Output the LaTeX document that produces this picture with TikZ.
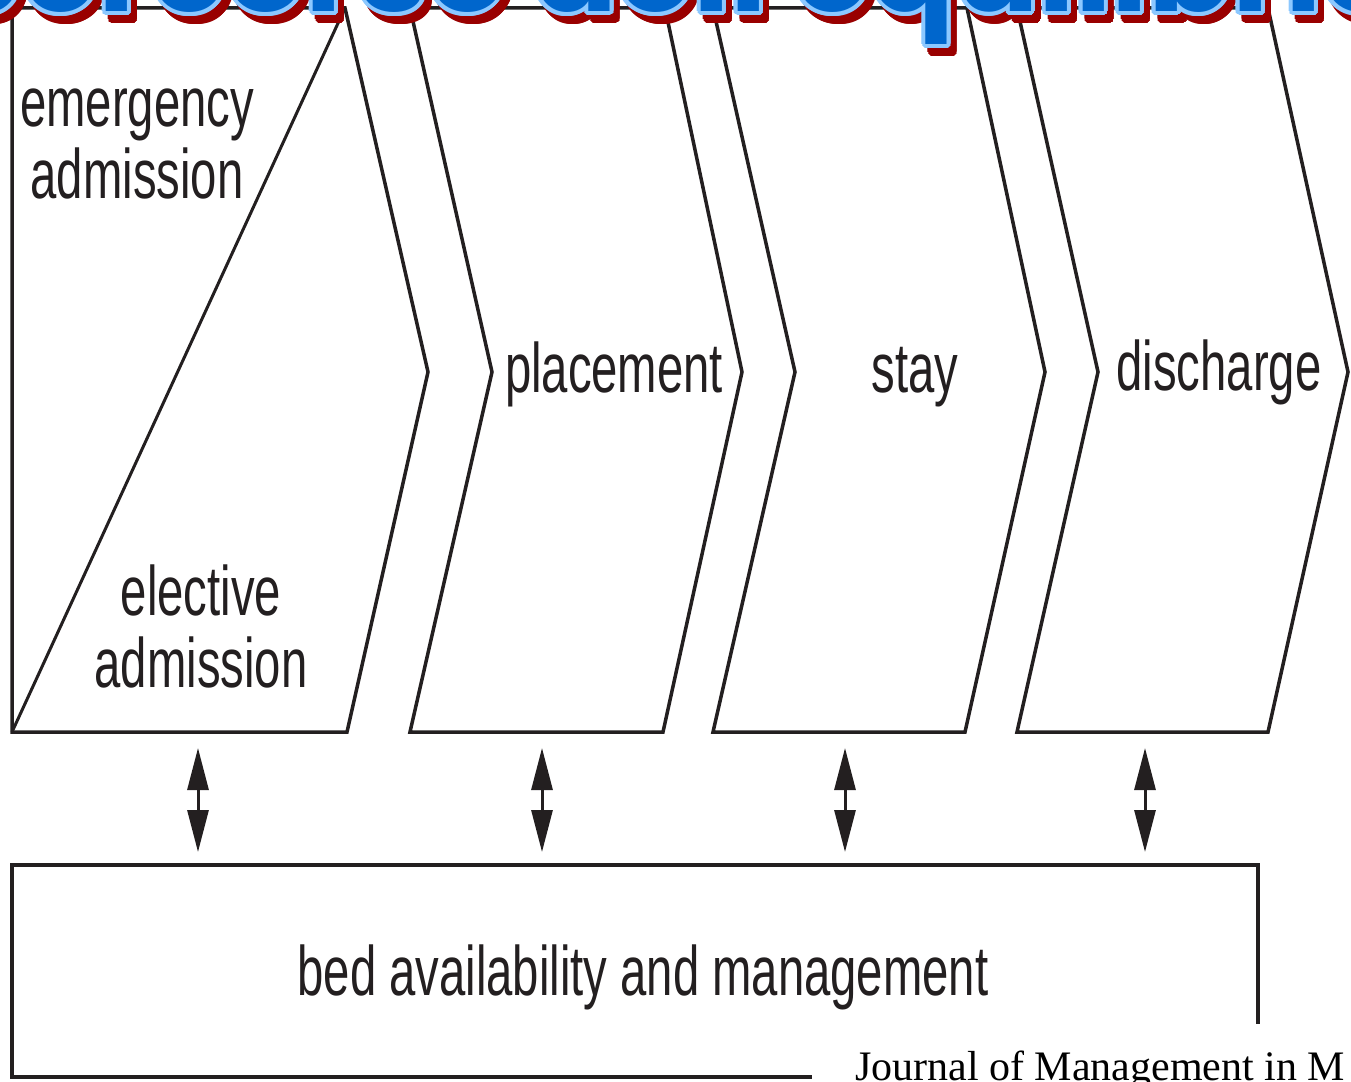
\documentclass[tikz,border=0pt]{standalone}
\usepackage{fontspec}
\setmainfont{Liberation Sans}[FakeStretch=0.675]
\newfontfamily\journalfont{Liberation Serif}
\newfontfamily\stampfont{Poppins}
\usetikzlibrary{arrows.meta}
\definecolor{ink}{HTML}{231F20}
\definecolor{stampblue}{HTML}{0066CC}
\definecolor{stamprim}{HTML}{8CC8FF}
\definecolor{stampshadow}{HTML}{990000}
\newcommand\stamptext{percorso dell'equilibrio}
\begin{document}
\begin{tikzpicture}[x=1pt,y=-1pt,
  outline/.style={draw=ink, line width=3.5pt, line join=miter},
  lbl/.style={text=ink, inner sep=0pt, anchor=base, align=center,
    font=\fontsize{70}{72}\selectfont},
  link/.style={draw=ink, line width=3pt,
    {Triangle[length=42pt,width=21pt]}-{Triangle[length=42pt,width=21pt]}},
  stamp/.style={inner sep=0pt, anchor=base west,
    font=\stampfont\bfseries\fontsize{124}{124}\selectfont}]
\useasboundingbox (0,0) rectangle (1351,1081);
\clip (0,0) rectangle (1351,1081);
\fill[white] (0,0) rectangle (1351,1081);

% ---- process stages ----
% admission (split into emergency / elective by the diagonal)
\coordinate (adTL) at (12,8);
\coordinate (adTR) at (345,8);
\coordinate (adTip) at (428,372);
\coordinate (adBR) at (347,732);
\coordinate (adBL) at (12,732);
\draw[outline] (adTL) -- (adTR) -- (adTip) -- (adBR) -- (adBL) -- cycle;
\draw[ink, line width=3pt] (adTR) -- (adBL);

% placement
\draw[outline] (410,8) -- (665,8) -- (742,372) -- (663,732) -- (410,732) -- (492,372) -- cycle;
% stay
\draw[outline] (713,8) -- (967,8) -- (1045,372) -- (965,732) -- (713,732) -- (795,372) -- cycle;
% discharge
\draw[outline] (1017,8) -- (1268,8) -- (1348,372) -- (1268,732) -- (1017,732) -- (1098,372) -- cycle;

% two-line labels are anchored at the baseline of their last line
\node[lbl] (emerg) at (137,198) {emergency\\admission};
\node[lbl] (elect) at (201,687) {elective\\admission};
\node[lbl] (place) at (614,392) {placement};
\node[lbl] (stay) at (915,392) {stay};
\node[lbl] (disch) at (1219,390) {discharge};

% ---- bed management box ----
\node[draw=ink, line width=3.5pt, minimum width=1246pt, minimum height=212pt,
  inner sep=0pt] (bed) at (635,971) {};
\node[lbl] (bedlbl) at (643,995) {bed availability and management};

% ---- two-way links between stages and beds ----
\foreach \n/\x in {1/198, 2/542, 3/845, 4/1145} {
  \coordinate (up\n) at (\x,748);
  \coordinate (dn\n) at (\x,852);
  \draw[link] (up\n) -- (dn\n);
}

% ---- source line ----
\fill[white] (812,1024) rectangle (1351,1081);
\node[anchor=base west, inner sep=0pt, text=black,
  font=\journalfont\fontsize{42}{42}\selectfont] (journal) at (855,1080)
  {Journal of Management in M};

% ---- stamp lettering across the top edge ----
\coordinate (stampat) at (-62,12);
\foreach \a in {0,22.5,...,337.5}
  \node[stamp, text=stampshadow, shift={(6,8)}, shift={(\a:4)}] (shadow\a) at (stampat) {\stamptext};
\foreach \a in {0,22.5,...,337.5}
  \node[stamp, text=stamprim, shift={(\a:4)}] (rim\a) at (stampat) {\stamptext};
\node[stamp, text=stampblue] (stamp) at (stampat) {\stamptext};
\end{tikzpicture}
\end{document}
